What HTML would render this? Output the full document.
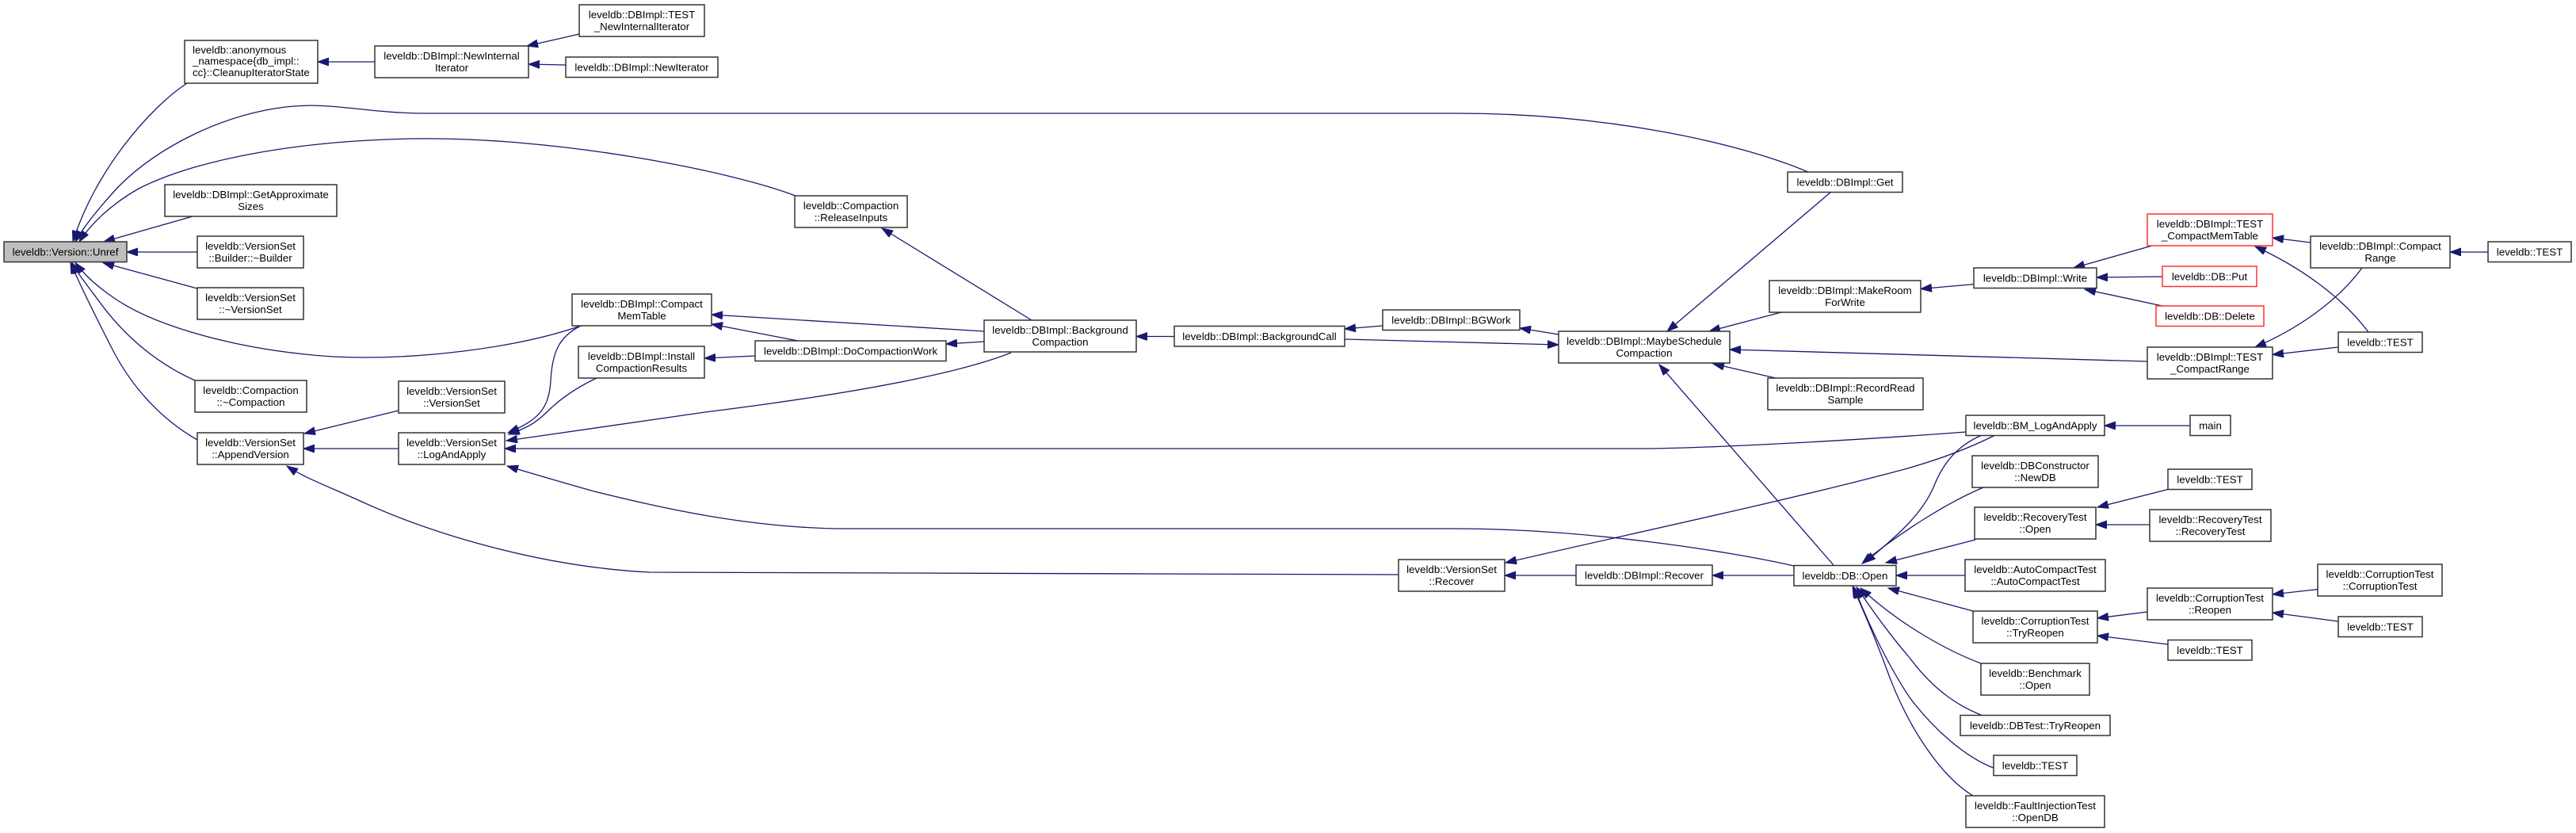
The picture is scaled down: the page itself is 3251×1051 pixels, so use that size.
<!DOCTYPE html>
<html><head><meta charset="utf-8">
<style>
html,body{margin:0;padding:0;background:#fff;}
svg{display:block;}
text{font-family:"Liberation Sans",Arial,Helvetica,sans-serif;font-size:13.3px;fill:#000;}
.n{fill:#fff;stroke:#333;stroke-width:1.5;}
.r{fill:#fff;stroke:#ff3030;stroke-width:1.5;}
.g{fill:#bfbfbf;stroke:#333;stroke-width:1.5;}
.e{fill:none;stroke:#191970;stroke-width:1.3;marker-end:url(#a);}
</style></head>
<body>
<svg width="3251" height="1051" viewBox="0 0 3251 1051" xmlns="http://www.w3.org/2000/svg">
<defs>
<marker id="a" markerUnits="userSpaceOnUse" markerWidth="16" markerHeight="12" refX="14" refY="5" orient="auto">
<path d="M0,0 L14,5 L0,10 z" fill="#191970" stroke="#191970" stroke-width="1"/>
</marker>
</defs>

<!-- ===== EDGES ===== -->
<!-- into Unref -->
<path class="e" d="M236,105 C190,135 120,215 92,305"/>
<path class="e" d="M2282,217 C2190,178 2020,143 1840,143 L539,143 C460,143 420,128 360,135 C280,145 200,185 150,235 C125,262 106,285 95,305"/>
<path class="e" d="M1004,247 C920,215 700,172 520,175 C360,178 240,205 175,238 C140,258 115,282 100,305"/>
<path class="e" d="M243,273 L131,305"/>
<path class="e" d="M249,318 L160,318"/>
<path class="e" d="M249,364 L130,331.5"/>
<path class="e" d="M733,411 C650,440 520,455 420,450 C300,442 200,412 150,380 C122,362 106,346 95,331.5"/>
<path class="e" d="M246,480 C190,455 150,415 125,380 C110,360 98,345 91,331.5"/>
<path class="e" d="M249,555 C200,527 165,485 143,443 C122,402 102,362 89,331.5"/>

<!-- top cluster -->
<path class="e" d="M473,78 L401,78"/>
<path class="e" d="M731,43 L665,58"/>
<path class="e" d="M714,82 L667,81"/>

<!-- compaction cluster -->
<path class="e" d="M1302,404 L1113,288"/>
<path class="e" d="M1242,418 L898,397"/>
<path class="e" d="M1007,430 L898,409"/>
<path class="e" d="M1242,431 L1194,434"/>
<path class="e" d="M953,449 L889,452"/>
<path class="e" d="M1276,445 C1200,475 1050,500 890,520 C800,533 720,545 639,556"/>
<path class="e" d="M1482,424.5 L1434,424.5"/>
<path class="e" d="M1745,411 L1697,415"/>
<path class="e" d="M1967,422 L1918,414"/>
<path class="e" d="M1697,428 L1967,435"/>

<!-- into MaybeSchedule -->
<path class="e" d="M2311,242 L2104,418"/>
<path class="e" d="M2248,394 L2157,418"/>
<path class="e" d="M2710,456 L2183,441"/>
<path class="e" d="M2241,477 L2162,459"/>
<path class="e" d="M2314,713 L2094,460"/>

<!-- write cluster -->
<path class="e" d="M2491,358.6 L2424,364.5"/>
<path class="e" d="M2716,310 L2617,338"/>
<path class="e" d="M2729,349 L2646,350"/>
<path class="e" d="M2729,386 L2631,365"/>
<path class="e" d="M2916,306 L2868,300"/>
<path class="e" d="M2989,419 C2960,380 2910,340 2846,311"/>
<path class="e" d="M2981,338 C2950,380 2900,415 2846,438"/>
<path class="e" d="M2951,438 L2868,447.5"/>
<path class="e" d="M3140,318 L3092,318"/>

<!-- into LogAndApply -->
<path class="e" d="M733,411 C705,425 697,445 695,480 C693,515 680,530 641,546"/>
<path class="e" d="M755,476 C725,490 705,505 690,520 C675,535 662,541 642,548"/>
<path class="e" d="M2481,545 C2350,555 2150,566 2071,566 L637,566"/>
<path class="e" d="M2264,714 C2180,695 2000,667 1835,667 L1056,667 C950,665 850,645 750,620 C700,606 670,597 640,588"/>

<!-- into AppendVersion -->
<path class="e" d="M503,518 L384,547"/>
<path class="e" d="M503,566 L383,566"/>
<path class="e" d="M1765,725 L820,722 C680,715 540,672 450,630 C410,612 385,603 362,588"/>

<!-- recover chain -->
<path class="e" d="M1989,726 L1899,726"/>
<path class="e" d="M2264,726 L2161,726"/>
<path class="e" d="M2517,549.5 C2480,568 2440,582 2400,593 C2250,633 2050,675 1900,710"/>

<!-- into DB::Open -->
<path class="e" d="M2500,549.5 C2465,565 2450,590 2440,615 C2425,650 2390,680 2353,710"/>
<path class="e" d="M2503,615 C2460,633 2400,670 2350,711"/>
<path class="e" d="M2493,681 L2380,710"/>
<path class="e" d="M2480,726 L2393,726"/>
<path class="e" d="M2490,771 L2383,742"/>
<path class="e" d="M2500,837 C2460,822 2400,790 2348,742"/>
<path class="e" d="M2500,902 C2470,890 2440,870 2410,830 C2380,795 2360,765 2343,741"/>
<path class="e" d="M2516,969 C2480,955 2440,920 2410,880 C2380,835 2355,780 2340,741"/>
<path class="e" d="M2490,1004 C2450,980 2410,920 2385,855 C2365,800 2348,762 2338,740"/>

<!-- right-side tests -->
<path class="e" d="M2764,537 L2656,537"/>
<path class="e" d="M2736,617.5 L2647,640"/>
<path class="e" d="M2713,662 L2645,662"/>
<path class="e" d="M2925,743.5 L2868,750"/>
<path class="e" d="M2951,784 L2868,773"/>
<path class="e" d="M2710,772 L2647,780"/>
<path class="e" d="M2736,813 L2647,802"/>

<!-- ===== NODES ===== -->
<rect class="g" x="5" y="305" width="155" height="25.5"/>
<text x="82.5" y="322.3" text-anchor="middle">leveldb::Version::Unref</text>

<rect class="n" x="233" y="51" width="168" height="54"/>
<text x="243" y="67.4">leveldb::anonymous</text>
<text x="243" y="81.6">_namespace{db_impl::</text>
<text x="243" y="96">cc}::CleanupIteratorState</text>

<rect class="n" x="473" y="58" width="194" height="40"/>
<text x="570" y="75" text-anchor="middle">leveldb::DBImpl::NewInternal</text>
<text x="570" y="90" text-anchor="middle">Iterator</text>

<rect class="n" x="731" y="6" width="158" height="40"/>
<text x="810" y="23" text-anchor="middle">leveldb::DBImpl::TEST</text>
<text x="810" y="38" text-anchor="middle">_NewInternalIterator</text>

<rect class="n" x="714" y="72" width="192" height="25.5"/>
<text x="810" y="89.3" text-anchor="middle">leveldb::DBImpl::NewIterator</text>

<rect class="n" x="208" y="233" width="217" height="40"/>
<text x="316.5" y="250" text-anchor="middle">leveldb::DBImpl::GetApproximate</text>
<text x="316.5" y="265" text-anchor="middle">Sizes</text>

<rect class="n" x="249" y="298" width="134" height="40"/>
<text x="316" y="315" text-anchor="middle">leveldb::VersionSet</text>
<text x="316" y="330" text-anchor="middle">::Builder::~Builder</text>

<rect class="n" x="249" y="363" width="134" height="40"/>
<text x="316" y="380" text-anchor="middle">leveldb::VersionSet</text>
<text x="316" y="395" text-anchor="middle">::~VersionSet</text>

<rect class="n" x="246" y="480" width="141" height="40"/>
<text x="316.5" y="497" text-anchor="middle">leveldb::Compaction</text>
<text x="316.5" y="512" text-anchor="middle">::~Compaction</text>

<rect class="n" x="249" y="546" width="134" height="40"/>
<text x="316" y="563" text-anchor="middle">leveldb::VersionSet</text>
<text x="316" y="578" text-anchor="middle">::AppendVersion</text>

<rect class="n" x="503" y="481" width="134" height="40"/>
<text x="570" y="498" text-anchor="middle">leveldb::VersionSet</text>
<text x="570" y="513" text-anchor="middle">::VersionSet</text>

<rect class="n" x="503" y="546" width="134" height="40"/>
<text x="570" y="563" text-anchor="middle">leveldb::VersionSet</text>
<text x="570" y="578" text-anchor="middle">::LogAndApply</text>

<rect class="n" x="722" y="371" width="176" height="40"/>
<text x="810" y="388" text-anchor="middle">leveldb::DBImpl::Compact</text>
<text x="810" y="403" text-anchor="middle">MemTable</text>

<rect class="n" x="730" y="437" width="159" height="40"/>
<text x="809.5" y="454" text-anchor="middle">leveldb::DBImpl::Install</text>
<text x="809.5" y="469" text-anchor="middle">CompactionResults</text>

<rect class="n" x="1003" y="247" width="142" height="40"/>
<text x="1074" y="264" text-anchor="middle">leveldb::Compaction</text>
<text x="1074" y="279" text-anchor="middle">::ReleaseInputs</text>

<rect class="n" x="953" y="430" width="241" height="25.5"/>
<text x="1073.5" y="447.3" text-anchor="middle">leveldb::DBImpl::DoCompactionWork</text>

<rect class="n" x="1242" y="404" width="192" height="40"/>
<text x="1338" y="421" text-anchor="middle">leveldb::DBImpl::Background</text>
<text x="1338" y="436" text-anchor="middle">Compaction</text>

<rect class="n" x="1482" y="411.5" width="215" height="25.5"/>
<text x="1589.5" y="428.8" text-anchor="middle">leveldb::DBImpl::BackgroundCall</text>

<rect class="n" x="1745" y="391" width="173" height="25.5"/>
<text x="1831.5" y="408.3" text-anchor="middle">leveldb::DBImpl::BGWork</text>

<rect class="n" x="1967" y="418" width="216" height="40"/>
<text x="2075" y="435" text-anchor="middle">leveldb::DBImpl::MaybeSchedule</text>
<text x="2075" y="450" text-anchor="middle">Compaction</text>

<rect class="n" x="2256" y="217" width="145" height="25.5"/>
<text x="2328.5" y="234.3" text-anchor="middle">leveldb::DBImpl::Get</text>

<rect class="n" x="2233" y="354" width="191" height="40"/>
<text x="2328.5" y="371" text-anchor="middle">leveldb::DBImpl::MakeRoom</text>
<text x="2328.5" y="386" text-anchor="middle">ForWrite</text>

<rect class="n" x="2231" y="477" width="196" height="40"/>
<text x="2329" y="494" text-anchor="middle">leveldb::DBImpl::RecordRead</text>
<text x="2329" y="509" text-anchor="middle">Sample</text>

<rect class="n" x="1765" y="706" width="134" height="40"/>
<text x="1832" y="723" text-anchor="middle">leveldb::VersionSet</text>
<text x="1832" y="738" text-anchor="middle">::Recover</text>

<rect class="n" x="1989" y="713" width="172" height="25.5"/>
<text x="2075" y="730.3" text-anchor="middle">leveldb::DBImpl::Recover</text>

<rect class="n" x="2264" y="713.5" width="129" height="25.5"/>
<text x="2328.5" y="730.8" text-anchor="middle">leveldb::DB::Open</text>

<rect class="n" x="2491" y="338" width="155" height="25.5"/>
<text x="2568.5" y="355.3" text-anchor="middle">leveldb::DBImpl::Write</text>

<rect class="r" x="2710" y="270" width="158" height="40"/>
<text x="2789" y="287" text-anchor="middle">leveldb::DBImpl::TEST</text>
<text x="2789" y="302" text-anchor="middle">_CompactMemTable</text>

<rect class="r" x="2729" y="336" width="119" height="25.5"/>
<text x="2788.5" y="353.3" text-anchor="middle">leveldb::DB::Put</text>

<rect class="r" x="2721" y="386" width="136" height="25.5"/>
<text x="2789" y="403.3" text-anchor="middle">leveldb::DB::Delete</text>

<rect class="n" x="2710" y="438" width="158" height="40"/>
<text x="2789" y="455" text-anchor="middle">leveldb::DBImpl::TEST</text>
<text x="2789" y="470" text-anchor="middle">_CompactRange</text>

<rect class="n" x="2916" y="298" width="176" height="40"/>
<text x="3004" y="315" text-anchor="middle">leveldb::DBImpl::Compact</text>
<text x="3004" y="330" text-anchor="middle">Range</text>

<rect class="n" x="3140" y="305" width="105" height="25.5"/>
<text x="3192.5" y="322.3" text-anchor="middle">leveldb::TEST</text>

<rect class="n" x="2951" y="419" width="106" height="25.5"/>
<text x="3004" y="436.3" text-anchor="middle">leveldb::TEST</text>

<rect class="n" x="2481" y="524" width="175" height="25.5"/>
<text x="2568.5" y="541.3" text-anchor="middle">leveldb::BM_LogAndApply</text>

<rect class="n" x="2764" y="524" width="51" height="25.5"/>
<text x="2789.5" y="541.3" text-anchor="middle">main</text>

<rect class="n" x="2489" y="575" width="159" height="40"/>
<text x="2568.5" y="592" text-anchor="middle">leveldb::DBConstructor</text>
<text x="2568.5" y="607" text-anchor="middle">::NewDB</text>

<rect class="n" x="2736" y="592" width="106" height="25.5"/>
<text x="2789" y="609.3" text-anchor="middle">leveldb::TEST</text>

<rect class="n" x="2492" y="640" width="153" height="40"/>
<text x="2568.5" y="657" text-anchor="middle">leveldb::RecoveryTest</text>
<text x="2568.5" y="672" text-anchor="middle">::Open</text>

<rect class="n" x="2713" y="643" width="153" height="40"/>
<text x="2789.5" y="660" text-anchor="middle">leveldb::RecoveryTest</text>
<text x="2789.5" y="675" text-anchor="middle">::RecoveryTest</text>

<rect class="n" x="2480" y="706" width="177" height="40"/>
<text x="2568.5" y="723" text-anchor="middle">leveldb::AutoCompactTest</text>
<text x="2568.5" y="738" text-anchor="middle">::AutoCompactTest</text>

<rect class="n" x="2710" y="742" width="158" height="40"/>
<text x="2789" y="759" text-anchor="middle">leveldb::CorruptionTest</text>
<text x="2789" y="774" text-anchor="middle">::Reopen</text>

<rect class="n" x="2925" y="712" width="157" height="40"/>
<text x="3003.5" y="729" text-anchor="middle">leveldb::CorruptionTest</text>
<text x="3003.5" y="744" text-anchor="middle">::CorruptionTest</text>

<rect class="n" x="2951" y="778" width="106" height="25.5"/>
<text x="3004" y="795.3" text-anchor="middle">leveldb::TEST</text>

<rect class="n" x="2490" y="771" width="157" height="40"/>
<text x="2568.5" y="788" text-anchor="middle">leveldb::CorruptionTest</text>
<text x="2568.5" y="803" text-anchor="middle">::TryReopen</text>

<rect class="n" x="2736" y="807.5" width="106" height="25.5"/>
<text x="2789" y="824.8" text-anchor="middle">leveldb::TEST</text>

<rect class="n" x="2500" y="837" width="137" height="40"/>
<text x="2568.5" y="854" text-anchor="middle">leveldb::Benchmark</text>
<text x="2568.5" y="869" text-anchor="middle">::Open</text>

<rect class="n" x="2474" y="902.5" width="189" height="25.5"/>
<text x="2568.5" y="919.8" text-anchor="middle">leveldb::DBTest::TryReopen</text>

<rect class="n" x="2516" y="953" width="105" height="25.5"/>
<text x="2568.5" y="970.3" text-anchor="middle">leveldb::TEST</text>

<rect class="n" x="2481" y="1004" width="175" height="40"/>
<text x="2568.5" y="1021" text-anchor="middle">leveldb::FaultInjectionTest</text>
<text x="2568.5" y="1036" text-anchor="middle">::OpenDB</text>
</svg>
</body></html>
